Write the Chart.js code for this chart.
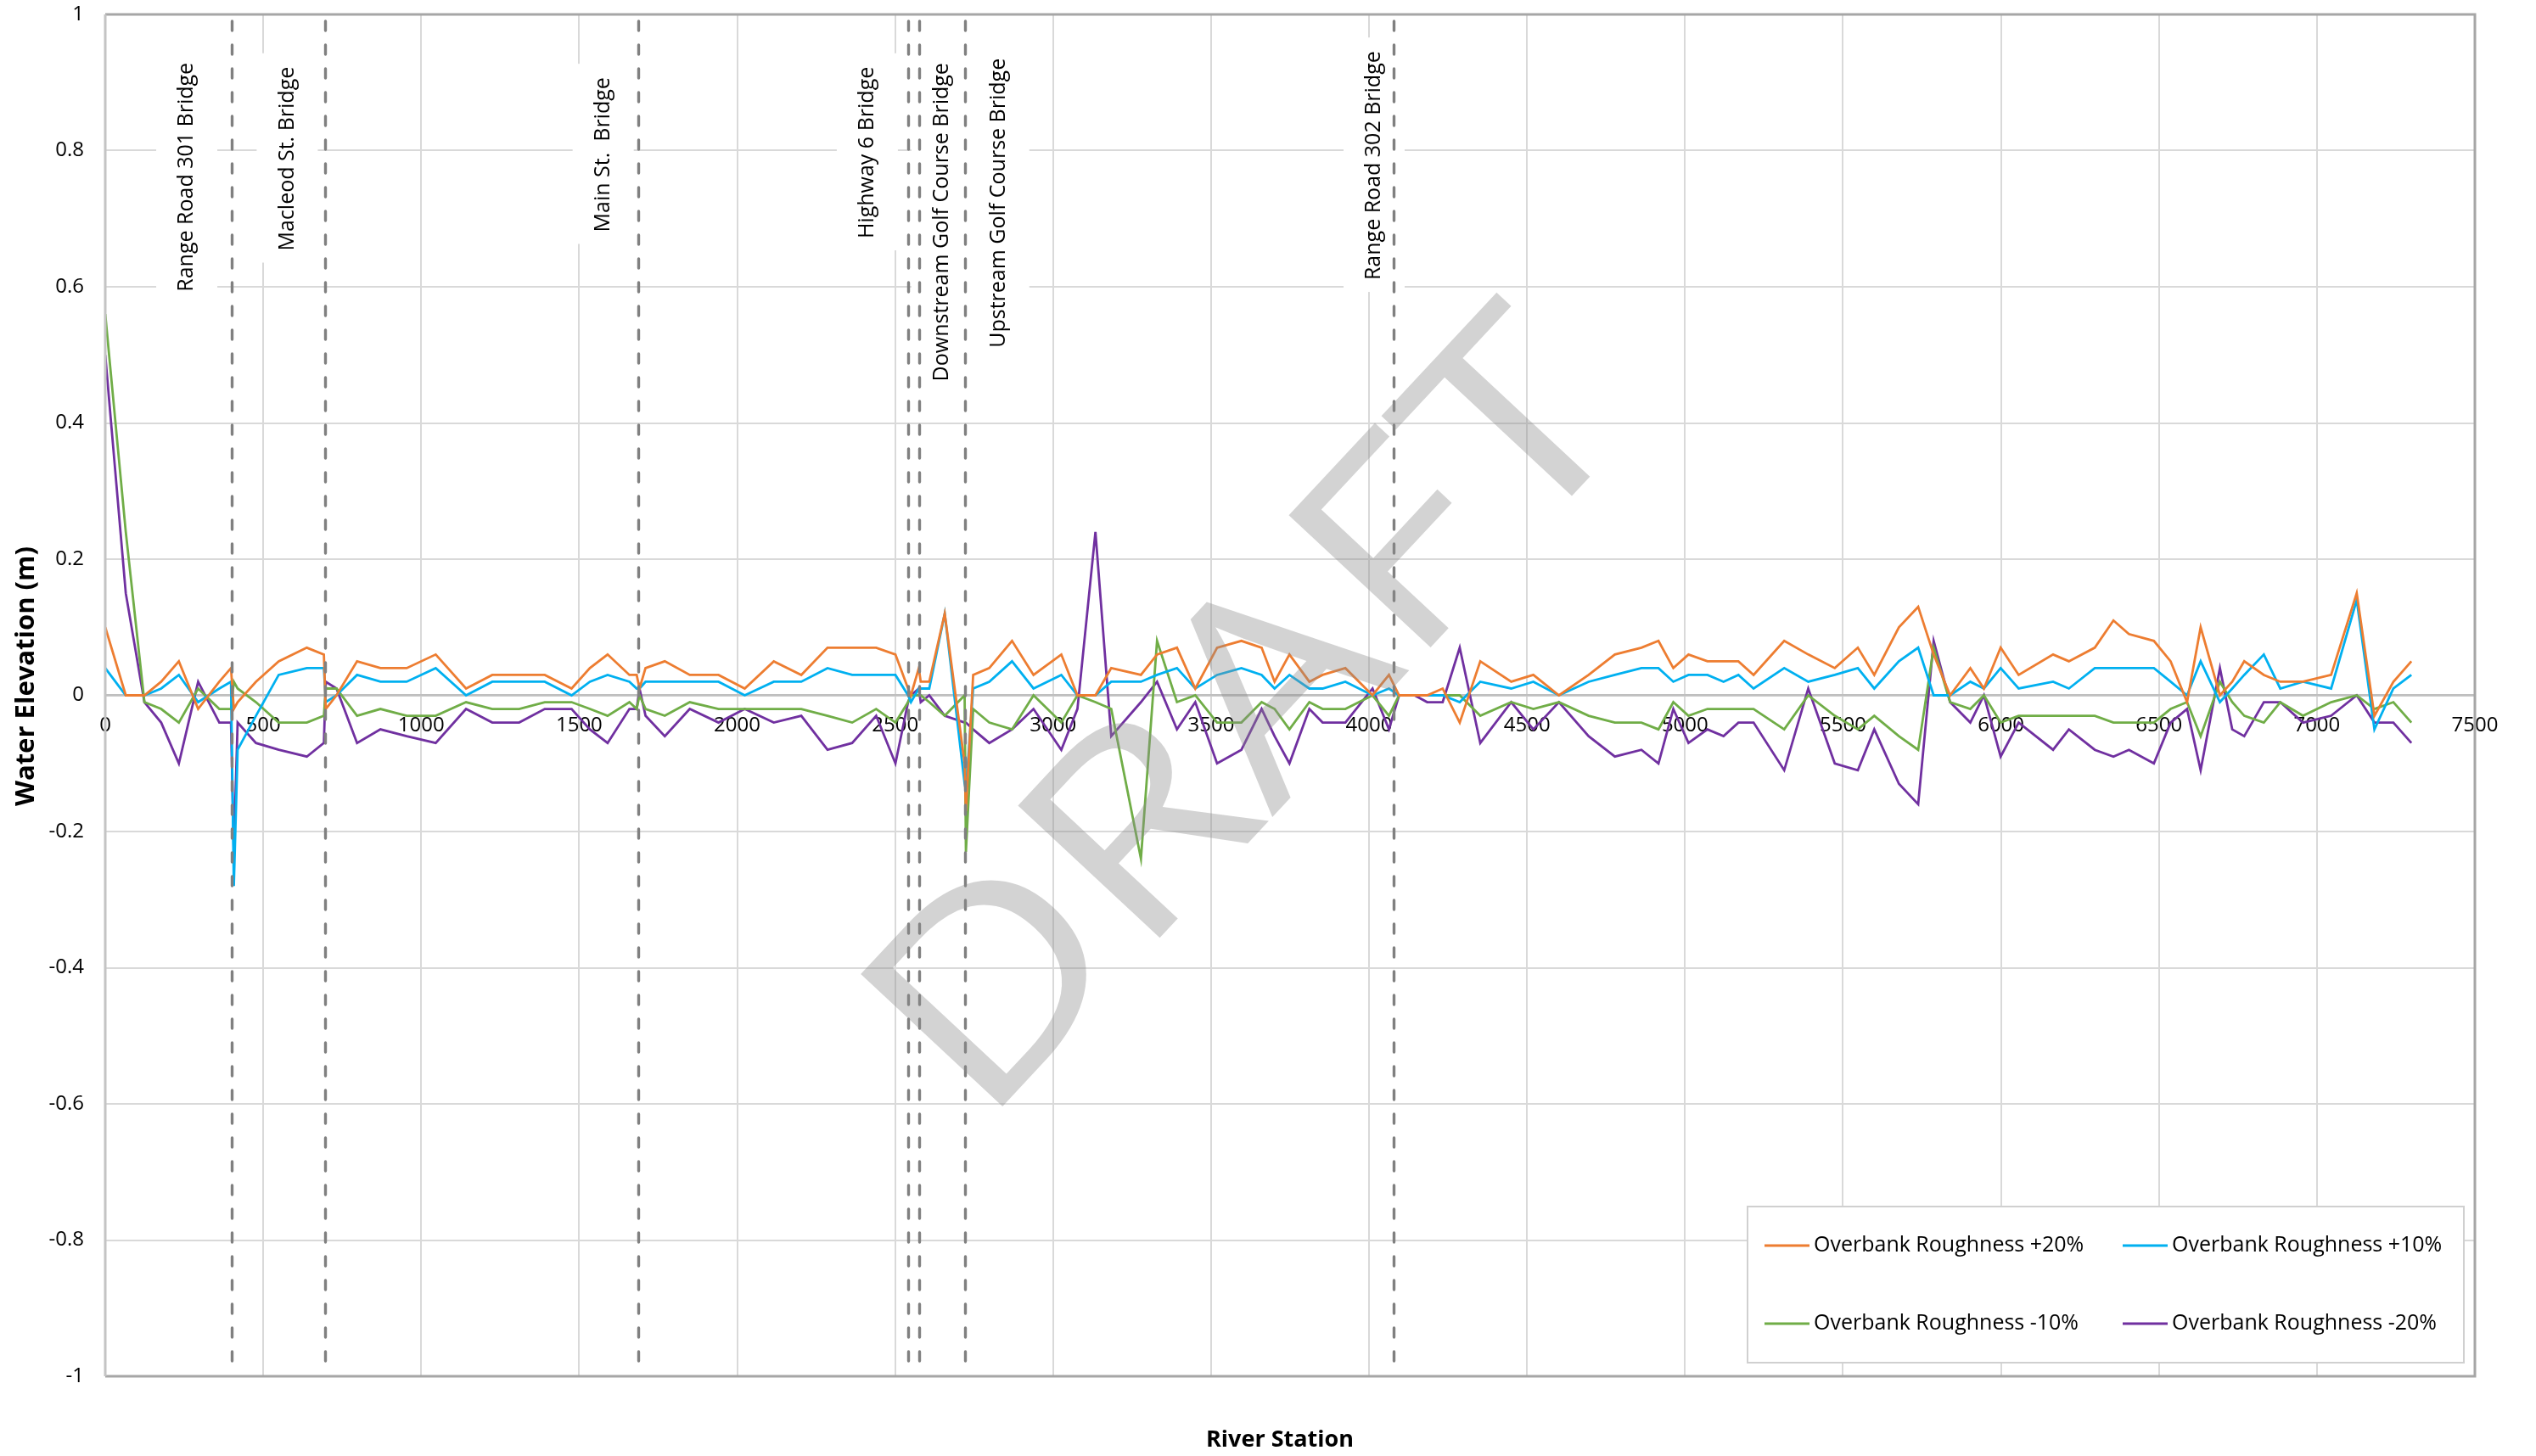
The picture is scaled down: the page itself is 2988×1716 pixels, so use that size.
<!DOCTYPE html>
<html>
<head>
<meta charset="utf-8">
<script src="https://cdn.jsdelivr.net/npm/chart.js@4.4.1/dist/chart.umd.min.js"></script>
<style>
  html, body { margin: 0; padding: 0; background: #ffffff; }
  #wrap { width: 2988px; height: 1716px; position: relative; }
</style>
</head>
<body>
<div id="wrap"><canvas id="chart" width="2988" height="1716"></canvas></div>
<script>
// River stations (m) shared by all four runs
const stations = [
  0, 65, 124, 177, 233, 294, 361, 398, 407, 419,
  477, 549, 638, 692, 698, 732, 797, 871, 954, 1046,
  1142, 1225, 1310, 1391, 1476, 1534, 1590, 1659, 1682, 1691,
  1710, 1771, 1850, 1941, 2024, 2116, 2203, 2286, 2364, 2440,
  2501, 2541, 2550, 2575, 2581, 2608, 2657, 2720, 2724, 2747,
  2798, 2870, 2938, 3026, 3077, 3134, 3184, 3278, 3329, 3392,
  3450, 3519, 3596, 3660, 3701, 3748, 3811, 3853, 3925, 4011,
  4063, 4095, 4144, 4184, 4233, 4287, 4352, 4450, 4520, 4601,
  4695, 4778, 4862, 4916, 4963, 5011, 5071, 5122, 5169, 5217,
  5314, 5390, 5474, 5547, 5599, 5677, 5738, 5787, 5839, 5903,
  5946, 5999, 6056, 6165, 6215, 6297, 6356, 6405, 6484, 6537,
  6589, 6632, 6693, 6732, 6770, 6832, 6884, 6956, 7045, 7126,
  7182, 7242, 7299
];

// Change in water elevation (m) for each overbank roughness run
const roughPlus20 = [
  0.10, 0.00, 0.00, 0.02, 0.05, -0.02, 0.02, 0.04, -0.02, -0.01,
  0.02, 0.05, 0.07, 0.06, -0.02, 0.00, 0.05, 0.04, 0.04, 0.06,
  0.01, 0.03, 0.03, 0.03, 0.01, 0.04, 0.06, 0.03, 0.03, 0.01,
  0.04, 0.05, 0.03, 0.03, 0.01, 0.05, 0.03, 0.07, 0.07, 0.07,
  0.06, 0.01, 0.00, 0.04, 0.02, 0.02, 0.12, -0.10, -0.17, 0.03,
  0.04, 0.08, 0.03, 0.06, 0.00, 0.00, 0.04, 0.03, 0.06, 0.07,
  0.01, 0.07, 0.08, 0.07, 0.02, 0.06, 0.02, 0.03, 0.04, 0.00,
  0.03, 0.00, 0.00, 0.00, 0.01, -0.04, 0.05, 0.02, 0.03, 0.00,
  0.03, 0.06, 0.07, 0.08, 0.04, 0.06, 0.05, 0.05, 0.05, 0.03,
  0.08, 0.06, 0.04, 0.07, 0.03, 0.10, 0.13, 0.06, 0.00, 0.04,
  0.01, 0.07, 0.03, 0.06, 0.05, 0.07, 0.11, 0.09, 0.08, 0.05,
  -0.01, 0.10, 0.00, 0.02, 0.05, 0.03, 0.02, 0.02, 0.03, 0.15,
  -0.03, 0.02, 0.05
];
const roughPlus10 = [
  0.04, 0.00, 0.00, 0.01, 0.03, -0.01, 0.01, 0.02, -0.28, -0.08,
  -0.03, 0.03, 0.04, 0.04, -0.01, 0.00, 0.03, 0.02, 0.02, 0.04,
  0.00, 0.02, 0.02, 0.02, 0.00, 0.02, 0.03, 0.02, 0.01, 0.01,
  0.02, 0.02, 0.02, 0.02, 0.00, 0.02, 0.02, 0.04, 0.03, 0.03,
  0.03, 0.00, -0.01, 0.01, 0.01, 0.01, 0.12, -0.13, -0.14, 0.01,
  0.02, 0.05, 0.01, 0.03, 0.00, 0.00, 0.02, 0.02, 0.03, 0.04,
  0.01, 0.03, 0.04, 0.03, 0.01, 0.03, 0.01, 0.01, 0.02, 0.00,
  0.01, 0.00, 0.00, 0.00, 0.00, -0.01, 0.02, 0.01, 0.02, 0.00,
  0.02, 0.03, 0.04, 0.04, 0.02, 0.03, 0.03, 0.02, 0.03, 0.01,
  0.04, 0.02, 0.03, 0.04, 0.01, 0.05, 0.07, 0.00, 0.00, 0.02,
  0.01, 0.04, 0.01, 0.02, 0.01, 0.04, 0.04, 0.04, 0.04, 0.02,
  0.00, 0.05, -0.01, 0.01, 0.03, 0.06, 0.01, 0.02, 0.01, 0.14,
  -0.05, 0.01, 0.03
];
const roughMinus10 = [
  0.56, 0.24, -0.01, -0.02, -0.04, 0.01, -0.02, -0.02, 0.02, 0.01,
  -0.01, -0.04, -0.04, -0.03, 0.01, 0.01, -0.03, -0.02, -0.03, -0.03,
  -0.01, -0.02, -0.02, -0.01, -0.01, -0.02, -0.03, -0.01, -0.02, 0.00,
  -0.02, -0.03, -0.01, -0.02, -0.02, -0.02, -0.02, -0.03, -0.04, -0.02,
  -0.04, -0.01, 0.00, 0.00, 0.00, -0.01, -0.03, 0.00, -0.23, -0.02,
  -0.04, -0.05, 0.00, -0.04, 0.00, -0.01, -0.02, -0.24, 0.08, -0.01,
  0.00, -0.04, -0.04, -0.01, -0.02, -0.05, -0.01, -0.02, -0.02, 0.00,
  -0.03, 0.00, 0.00, 0.00, 0.00, 0.00, -0.03, -0.01, -0.02, -0.01,
  -0.03, -0.04, -0.04, -0.05, -0.01, -0.03, -0.02, -0.02, -0.02, -0.02,
  -0.05, 0.00, -0.03, -0.05, -0.03, -0.06, -0.08, 0.07, -0.01, -0.02,
  0.00, -0.04, -0.03, -0.03, -0.03, -0.03, -0.04, -0.04, -0.04, -0.02,
  -0.01, -0.06, 0.02, -0.01, -0.03, -0.04, -0.01, -0.03, -0.01, 0.00,
  -0.02, -0.01, -0.04
];
const roughMinus20 = [
  0.50, 0.15, -0.01, -0.04, -0.10, 0.02, -0.04, -0.04, -0.23, -0.04,
  -0.07, -0.08, -0.09, -0.07, 0.02, 0.01, -0.07, -0.05, -0.06, -0.07,
  -0.02, -0.04, -0.04, -0.02, -0.02, -0.05, -0.07, -0.02, -0.02, 0.01,
  -0.03, -0.06, -0.02, -0.04, -0.02, -0.04, -0.03, -0.08, -0.07, -0.03,
  -0.10, -0.01, 0.00, 0.01, -0.01, 0.00, -0.03, -0.04, -0.04, -0.05,
  -0.07, -0.05, -0.02, -0.08, -0.02, 0.24, -0.06, -0.01, 0.02, -0.05,
  -0.01, -0.10, -0.08, -0.02, -0.06, -0.10, -0.02, -0.04, -0.04, 0.01,
  -0.05, 0.00, 0.00, -0.01, -0.01, 0.07, -0.07, -0.01, -0.05, -0.01,
  -0.06, -0.09, -0.08, -0.10, -0.02, -0.07, -0.05, -0.06, -0.04, -0.04,
  -0.11, 0.01, -0.10, -0.11, -0.05, -0.13, -0.16, 0.08, -0.01, -0.04,
  0.00, -0.09, -0.04, -0.08, -0.05, -0.08, -0.09, -0.08, -0.10, -0.04,
  -0.02, -0.11, 0.04, -0.05, -0.06, -0.01, -0.01, -0.04, -0.03, 0.00,
  -0.04, -0.04, -0.07
];

const seriesNames = [
  'Overbank Roughness +20%',
  'Overbank Roughness +10%',
  'Overbank Roughness -10%',
  'Overbank Roughness -20%'
];
const seriesColors = ['#ED7D31', '#00B0F0', '#70AD47', '#7030A0'];

// Bridge crossings: station of each crossing, and where its label sits
const bridgeNames = [
  'Range Road 301 Bridge',
  'Macleod St. Bridge',
  'Main St.  Bridge',
  'Highway 6 Bridge',
  'Downstream Golf Course Bridge',
  'Upstream Golf Course Bridge',
  'Range Road 302 Bridge'
];
const bridgeStations = [401, 695, 1688, 2541, 2575, 2722, 4079];
const bridgeLabelStations = [258, 576, 1576, 2412, 2648, 2828, 4016];
const bridgeLabelLevels = [0.761, 0.788, 0.794, 0.797, 0.695, 0.723, 0.778];

const xTitle = 'River Station';
const yTitle = 'Water Elevation (m)';
const watermark = 'DRAFT';

const runs = [roughPlus20, roughPlus10, roughMinus10, roughMinus20];
const datasets = runs.map((vals, i) => ({
  label: seriesNames[i],
  data: stations.map((s, k) => ({ x: s, y: vals[k] })),
  borderColor: seriesColors[i],
  backgroundColor: seriesColors[i],
  borderWidth: 2.8,
  pointRadius: 0,
  showLine: true,
  tension: 0,
  borderJoinStyle: 'miter'
}));

const FONT = "'Open Sans', 'Liberation Sans', sans-serif";

const decorations = {
  id: 'decorations',
  beforeDatasetsDraw(chart) {
    const { ctx, scales: { x, y } } = chart;
    ctx.save();
    ctx.font = '25px ' + FONT;
    bridgeNames.forEach((name, i) => {
      const cx = x.getPixelForValue(bridgeLabelStations[i]);
      const cy = y.getPixelForValue(bridgeLabelLevels[i]);
      const w = ctx.measureText(name).width;
      ctx.fillStyle = '#ffffff';
      ctx.fillRect(cx - 36, cy - w / 2 - 16, 72, w + 30);
      ctx.save();
      ctx.translate(cx, cy);
      ctx.rotate(-Math.PI / 2);
      ctx.fillStyle = '#000000';
      ctx.textAlign = 'center';
      ctx.textBaseline = 'middle';
      ctx.fillText(name, 0, 0);
      ctx.restore();
    });
    ctx.restore();
  },
  afterDatasetsDraw(chart) {
    const { ctx, chartArea: a, scales: { x } } = chart;
    ctx.save();
    // bridge crossings
    ctx.strokeStyle = '#808080';
    ctx.lineWidth = 3.4;
    ctx.lineCap = 'round';
    ctx.setLineDash([11, 17]);
    bridgeStations.forEach(s => {
      const px = Math.round(x.getPixelForValue(s)) + 0.5;
      ctx.beginPath();
      ctx.moveTo(px, a.top + 8);
      ctx.lineTo(px, a.bottom - 8);
      ctx.stroke();
    });
    ctx.setLineDash([]);
    // watermark
    ctx.save();
    ctx.translate(1478, 852);
    ctx.rotate(-47 * Math.PI / 180);
    ctx.scale(1.17, 1);
    ctx.font = '320px ' + FONT;
    ctx.fillStyle = 'rgba(140,140,140,0.38)';
    ctx.textAlign = 'center';
    ctx.textBaseline = 'middle';
    ctx.fillText(watermark, 0, 0);
    ctx.restore();
    // plot frame
    ctx.lineCap = 'butt';
    ctx.strokeStyle = '#a6a6a6';
    ctx.lineWidth = 3;
    ctx.beginPath();
    ctx.moveTo(a.left, a.top);
    ctx.lineTo(a.right, a.top);
    ctx.lineTo(a.right, a.bottom);
    ctx.lineTo(a.left, a.bottom);
    ctx.stroke();
    ctx.strokeStyle = '#c4c4c4';
    ctx.beginPath();
    ctx.moveTo(a.left, a.top);
    ctx.lineTo(a.left, a.bottom);
    ctx.stroke();
    ctx.restore();
  },
  afterDraw(chart) {
    const { ctx } = chart;
    ctx.save();
    // axis titles
    ctx.fillStyle = '#000000';
    ctx.textAlign = 'center';
    ctx.textBaseline = 'middle';
    ctx.font = 'bold 27px ' + FONT;
    ctx.fillText(xTitle, 1508, 1697);
    ctx.save();
    ctx.translate(31, 797);
    ctx.rotate(-Math.PI / 2);
    ctx.font = 'bold 31px ' + FONT;
    ctx.fillText(yTitle, 0, 0);
    ctx.restore();
    // legend
    const box = { x: 2059, y: 1422, w: 844, h: 184 };
    ctx.fillStyle = '#ffffff';
    ctx.fillRect(box.x, box.y, box.w, box.h);
    ctx.strokeStyle = '#d0d0d0';
    ctx.lineWidth = 2;
    ctx.strokeRect(box.x, box.y, box.w, box.h);
    const cols = [2079, 2501];
    const rows = [1468, 1560];
    ctx.font = '25px ' + FONT;
    ctx.textAlign = 'left';
    chart.data.datasets.forEach((ds, i) => {
      const lx = cols[i % 2];
      const ly = rows[Math.floor(i / 2)];
      ctx.strokeStyle = ds.borderColor;
      ctx.lineWidth = 3;
      ctx.beginPath();
      ctx.moveTo(lx, ly);
      ctx.lineTo(lx + 53, ly);
      ctx.stroke();
      ctx.fillStyle = '#000000';
      ctx.fillText(ds.label, lx + 58, ly);
    });
    ctx.restore();
  }
};

function noScalePadding(scale) {
  scale.paddingTop = 0;
  scale.paddingBottom = 0;
  scale.paddingLeft = 0;
  scale.paddingRight = 0;
}

new Chart(document.getElementById('chart'), {
  type: 'scatter',
  data: { datasets },
  options: {
    responsive: false,
    devicePixelRatio: 1,
    animation: false,
    events: [],
    layout: { padding: { left: 0, right: 72, top: 17, bottom: 94 } },
    plugins: { legend: { display: false }, tooltip: { enabled: false }, title: { display: false } },
    scales: {
      x: {
        type: 'linear',
        min: 0,
        max: 7500,
        position: { y: 0 },
        ticks: {
          stepSize: 500,
          color: '#000000',
          font: { family: FONT, size: 24 },
          padding: 21,
          maxRotation: 0,
          autoSkip: false,
          callback: v => String(v)
        },
        grid: { color: '#d9d9d9', lineWidth: 2, drawTicks: false },
        border: { display: true, color: '#bfbfbf', width: 2.5 },
        afterFit: noScalePadding
      },
      y: {
        type: 'linear',
        min: -1,
        max: 1,
        ticks: {
          stepSize: 0.2,
          color: '#000000',
          font: { family: FONT, size: 24 },
          padding: 25,
          callback: v => String(Math.round(v * 10) / 10)
        },
        grid: { color: '#d9d9d9', lineWidth: 2, drawTicks: false },
        border: { display: false },
        afterFit(scale) { noScalePadding(scale); scale.width = 124; }
      }
    }
  },
  plugins: [decorations]
});
</script>
</body>
</html>
